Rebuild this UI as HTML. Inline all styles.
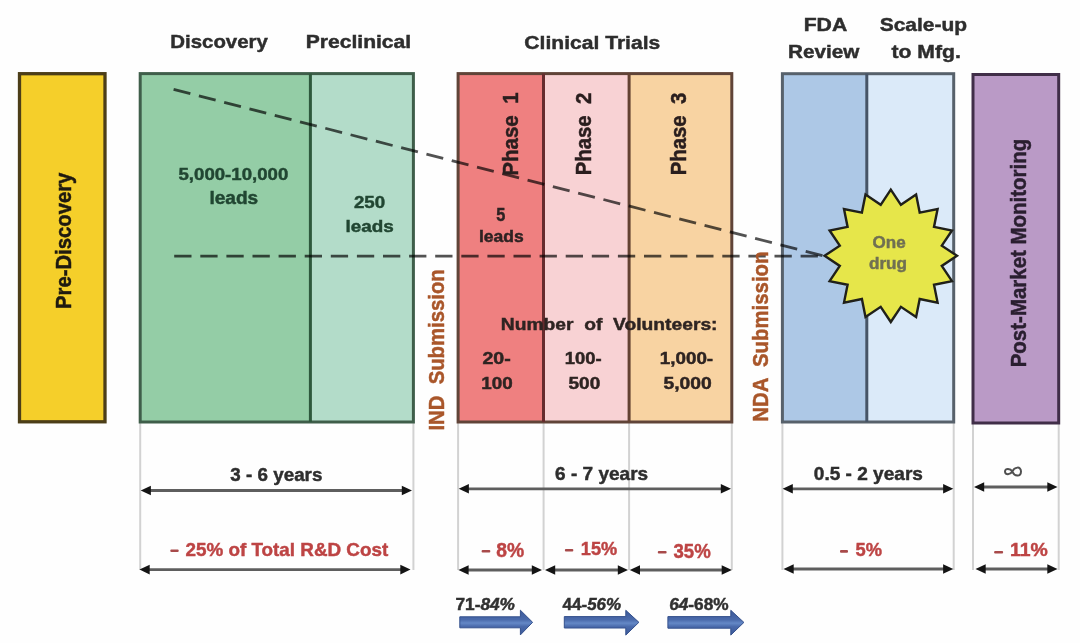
<!DOCTYPE html>
<html><head><meta charset="utf-8"><style>
html,body{margin:0;padding:0;background:#fff;}
svg text{white-space:pre;stroke:currentColor;}
svg{display:block;filter:blur(0.6px);font-family:"Liberation Sans",sans-serif;font-weight:bold;}
</style></head><body>
<svg width="1080" height="643" viewBox="0 0 1080 643">
<defs><linearGradient id="bg" x1="0" y1="0" x2="0" y2="1"><stop offset="0" stop-color="#3b5898"/><stop offset="0.38" stop-color="#4a6aab"/><stop offset="0.52" stop-color="#6488c6"/><stop offset="0.66" stop-color="#4a6aab"/><stop offset="1" stop-color="#3b5898"/></linearGradient></defs>
<rect width="1080" height="643" fill="#fefefe"/>
<line x1="140.2" y1="422" x2="140.2" y2="570" stroke="#d2d2d2" stroke-width="2"/>
<line x1="413.4" y1="422" x2="413.4" y2="570" stroke="#d2d2d2" stroke-width="2"/>
<line x1="458.1" y1="422" x2="458.1" y2="570" stroke="#d2d2d2" stroke-width="2"/>
<line x1="543.6" y1="422" x2="543.6" y2="570" stroke="#d2d2d2" stroke-width="2"/>
<line x1="629.1" y1="422" x2="629.1" y2="570" stroke="#d2d2d2" stroke-width="2"/>
<line x1="731.8" y1="422" x2="731.8" y2="570" stroke="#d2d2d2" stroke-width="2"/>
<line x1="782.4" y1="422" x2="782.4" y2="570" stroke="#d2d2d2" stroke-width="2"/>
<line x1="953.7" y1="422" x2="953.7" y2="570" stroke="#d2d2d2" stroke-width="2"/>
<line x1="973" y1="422" x2="973" y2="570" stroke="#d2d2d2" stroke-width="2"/>
<line x1="1058.7" y1="422" x2="1058.7" y2="570" stroke="#d2d2d2" stroke-width="2"/>
<rect x="19.5" y="73.7" width="85.5" height="348.1" fill="#f5cf2a" stroke="#4c3e18" stroke-width="3.3"/>
<rect x="140" y="73.6" width="170.4" height="348.4" fill="#94cda6"/>
<rect x="310.4" y="73.6" width="103" height="348.4" fill="#b3dcc9"/>
<rect x="140.2" y="73.6" width="273.2" height="348.4" fill="none" stroke="#3f5e4a" stroke-width="3"/>
<line x1="310.4" y1="73.6" x2="310.4" y2="422" stroke="#2e583c" stroke-width="3"/>
<rect x="458" y="73.6" width="85.6" height="348.4" fill="#ef8080"/>
<rect x="543.6" y="73.6" width="85.5" height="348.4" fill="#f8d2d4"/>
<rect x="629.1" y="73.6" width="102.7" height="348.4" fill="#f8d3a2"/>
<rect x="458.1" y="73.6" width="273.69999999999993" height="348.4" fill="none" stroke="#604438" stroke-width="3"/>
<line x1="543.5" y1="73.6" x2="543.5" y2="422" stroke="#662c2e" stroke-width="3"/>
<line x1="629.1" y1="73.6" x2="629.1" y2="422" stroke="#634232" stroke-width="3"/>
<rect x="782.4" y="73.6" width="84.4" height="348.4" fill="#adc8e6"/>
<rect x="866.8" y="73.6" width="86.9" height="348.4" fill="#dbeaf9"/>
<rect x="782.4" y="73.7" width="171.30000000000007" height="348.3" fill="none" stroke="#57616b" stroke-width="3"/>
<line x1="866.8" y1="73.6" x2="866.8" y2="422" stroke="#465466" stroke-width="3"/>
<rect x="973" y="74.5" width="85.70000000000005" height="348.5" fill="#ba9ac6" stroke="#402e48" stroke-width="3"/>
<line x1="173.6" y1="89.4" x2="824" y2="256" stroke="#000" stroke-opacity="0.68" stroke-width="2.8" stroke-dasharray="17.3 8.8"/>
<line x1="174.2" y1="256.2" x2="824" y2="256.2" stroke="#000" stroke-opacity="0.68" stroke-width="2.8" stroke-dasharray="17.3 8.8"/>
<polygon points="890.8,189.6 880.7,204.8 865.5,194.6 861.9,212.6 844.0,209.0 847.6,226.9 829.6,230.5 839.8,245.7 824.6,255.8 839.8,265.9 829.6,281.1 847.6,284.7 844.0,302.6 861.9,299.0 865.5,317.0 880.7,306.8 890.8,322.0 900.9,306.8 916.1,317.0 919.7,299.0 937.6,302.6 934.0,284.7 952.0,281.1 941.8,265.9 957.0,255.8 941.8,245.7 952.0,230.5 934.0,226.9 937.6,209.0 919.7,212.6 916.1,194.6 900.9,204.8" fill="#e6e64a" stroke="#20201a" stroke-width="2.4" stroke-linejoin="miter"/>
<rect x="170.3" y="549.5" width="8.399999999999977" height="2.6" rx="1" fill="#a84a4a"/><rect x="481.6" y="550.0" width="8.699999999999989" height="2.6" rx="1" fill="#a84a4a"/><rect x="564.9" y="549.0" width="8.399999999999977" height="2.6" rx="1" fill="#a84a4a"/><rect x="657.8" y="551.0" width="8.800000000000068" height="2.6" rx="1" fill="#a84a4a"/><rect x="840" y="550.1" width="8" height="2.6" rx="1" fill="#a84a4a"/><rect x="994.1" y="550.9000000000001" width="9.0" height="2.6" rx="1" fill="#a84a4a"/>
<text transform="translate(455.46,609.5) scale(1.0541,1)" font-size="16.4" fill="#303030" style="color:#303030" stroke-width="0.45"><tspan font-style="normal">71-</tspan><tspan font-style="italic">84%</tspan></text><text transform="translate(562.60,609.5) scale(1.0374,1)" font-size="16.4" fill="#303030" style="color:#303030" stroke-width="0.45"><tspan font-style="normal">44-</tspan><tspan font-style="italic">56%</tspan></text><text transform="translate(669.16,609.5) scale(1.0523,1)" font-size="16.4" fill="#303030" style="color:#303030" stroke-width="0.45"><tspan font-style="italic">64</tspan><tspan font-style="normal">-68%</tspan></text>
<path d="M1012.3,471.6 C1010.5,468.4 1005,467.8 1005,471.6 C1005,475.4 1010.5,474.8 1012.3,471.6 C1014.2,467 1021,465.6 1021,471.6 C1021,477.6 1014.2,476.2 1012.3,471.6 Z" fill="none" stroke="#505050" stroke-width="2"/>
<line x1="149.89999999999998" y1="490.5" x2="402.8" y2="490.5" stroke="#5e5e5e" stroke-width="2.8"/><polygon points="140.7,490.5 150.89999999999998,485.7 150.89999999999998,495.3" fill="#141414"/><polygon points="412,490.5 401.8,485.7 401.8,495.3" fill="#141414"/>
<line x1="467.9" y1="488.8" x2="721.8" y2="488.8" stroke="#5e5e5e" stroke-width="2.8"/><polygon points="458.7,488.8 468.9,484.0 468.9,493.6" fill="#141414"/><polygon points="731,488.8 720.8,484.0 720.8,493.6" fill="#141414"/>
<line x1="791.8000000000001" y1="488.8" x2="944.0999999999999" y2="488.8" stroke="#5e5e5e" stroke-width="2.8"/><polygon points="782.6,488.8 792.8000000000001,484.0 792.8000000000001,493.6" fill="#141414"/><polygon points="953.3,488.8 943.0999999999999,484.0 943.0999999999999,493.6" fill="#141414"/>
<line x1="983.2" y1="487" x2="1048.3" y2="487" stroke="#5e5e5e" stroke-width="2.8"/><polygon points="974,487 984.2,482.2 984.2,491.8" fill="#141414"/><polygon points="1057.5,487 1047.3,482.2 1047.3,491.8" fill="#141414"/>
<line x1="148.7" y1="569.6" x2="401.3" y2="569.6" stroke="#5e5e5e" stroke-width="2.8"/><polygon points="139.5,569.6 149.7,564.8000000000001 149.7,574.4" fill="#141414"/><polygon points="410.5,569.6 400.3,564.8000000000001 400.3,574.4" fill="#141414"/>
<line x1="467.59999999999997" y1="570" x2="532.8" y2="570" stroke="#5e5e5e" stroke-width="2.8"/><polygon points="458.4,570 468.59999999999997,565.2 468.59999999999997,574.8" fill="#141414"/><polygon points="542,570 531.8,565.2 531.8,574.8" fill="#141414"/>
<line x1="554.2" y1="570" x2="618.8" y2="570" stroke="#5e5e5e" stroke-width="2.8"/><polygon points="545,570 555.2,565.2 555.2,574.8" fill="#141414"/><polygon points="628,570 617.8,565.2 617.8,574.8" fill="#141414"/>
<line x1="639.0" y1="570" x2="722.6999999999999" y2="570" stroke="#5e5e5e" stroke-width="2.8"/><polygon points="629.8,570 640.0,565.2 640.0,574.8" fill="#141414"/><polygon points="731.9,570 721.6999999999999,565.2 721.6999999999999,574.8" fill="#141414"/>
<line x1="792.7" y1="569" x2="944.0999999999999" y2="569" stroke="#5e5e5e" stroke-width="2.8"/><polygon points="783.5,569 793.7,564.2 793.7,573.8" fill="#141414"/><polygon points="953.3,569 943.0999999999999,564.2 943.0999999999999,573.8" fill="#141414"/>
<line x1="984.7" y1="569" x2="1048.3" y2="569" stroke="#5e5e5e" stroke-width="2.8"/><polygon points="975.5,569 985.7,564.2 985.7,573.8" fill="#141414"/><polygon points="1057.5,569 1047.3,564.2 1047.3,573.8" fill="#141414"/>
<polygon points="459.8,616.8 520.4,616.8 520.4,610.2 532.6,622.3 520.4,634.9 520.4,627.8 459.8,627.8" fill="url(#bg)" stroke="#34508c" stroke-width="1"/>
<polygon points="564.3,616.6 625.8,616.6 625.8,610.3 638.9,622.3 625.8,635.1 625.8,628 564.3,628" fill="url(#bg)" stroke="#34508c" stroke-width="1"/>
<polygon points="667.9,616.6 730.8,616.6 730.8,610.3 743.9,622.4000000000001 730.8,635.1 730.8,628.2 667.9,628.2" fill="url(#bg)" stroke="#34508c" stroke-width="1"/>
<text transform="translate(170.32,48.00) scale(1.1034,1)" font-size="18.49" fill="#2e2e2e" style="color:#2e2e2e" stroke-width="0.45">Discovery</text>
<text transform="translate(305.68,48.00) scale(1.1411,1)" font-size="18.49" fill="#2e2e2e" style="color:#2e2e2e" stroke-width="0.45">Preclinical</text>
<text transform="translate(524.34,48.50) scale(1.0986,1)" font-size="19.20" fill="#2e2e2e" style="color:#2e2e2e" stroke-width="0.45">Clinical Trials</text>
<text transform="translate(803.68,31.00) scale(1.1280,1)" font-size="18.78" fill="#2e2e2e" style="color:#2e2e2e" stroke-width="0.45">FDA</text>
<text transform="translate(788.11,57.60) scale(1.1006,1)" font-size="18.78" fill="#2e2e2e" style="color:#2e2e2e" stroke-width="0.45">Review</text>
<text transform="translate(879.67,31.00) scale(1.1170,1)" font-size="18.78" fill="#2e2e2e" style="color:#2e2e2e" stroke-width="0.45">Scale-up</text>
<text transform="translate(891.50,57.60) scale(1.1273,1)" font-size="18.78" fill="#2e2e2e" style="color:#2e2e2e" stroke-width="0.45">to Mfg.</text>
<text transform="translate(178.51,180.30) scale(1.0828,1)" font-size="17.21" fill="#214632" style="color:#214632" stroke-width="0.45">5,000-10,000</text>
<text transform="translate(209.41,204.40) scale(1.0835,1)" font-size="17.64" fill="#214632" style="color:#214632" stroke-width="0.45">leads</text>
<text transform="translate(353.91,207.50) scale(1.0971,1)" font-size="17.07" fill="#214632" style="color:#214632" stroke-width="0.45">250</text>
<text transform="translate(345.42,231.60) scale(1.1076,1)" font-size="17.07" fill="#214632" style="color:#214632" stroke-width="0.45">leads</text>
<text transform="translate(496.15,220.60) scale(0.9089,1)" font-size="17.92" fill="#2e2222" style="color:#2e2222" stroke-width="0.45">5</text>
<text transform="translate(478.90,241.60) scale(1.0998,1)" font-size="15.93" fill="#2e2222" style="color:#2e2222" stroke-width="0.45">leads</text>
<text transform="translate(500.80,329.50) scale(1.1279,1)" font-size="17.07" fill="#2e2422" style="color:#2e2422" stroke-width="0.45">Number  of  Volunteers:</text>
<text transform="translate(482.39,363.75) scale(1.2244,1)" font-size="16.00" fill="#2e2422" style="color:#2e2422" stroke-width="0.45">20-</text>
<text transform="translate(481.32,388.75) scale(1.1275,1)" font-size="16.71" fill="#2e2422" style="color:#2e2422" stroke-width="0.45">100</text>
<text transform="translate(564.85,363.75) scale(1.1494,1)" font-size="16.00" fill="#2e2422" style="color:#2e2422" stroke-width="0.45">100-</text>
<text transform="translate(568.45,388.75) scale(1.1411,1)" font-size="16.71" fill="#2e2422" style="color:#2e2422" stroke-width="0.45">500</text>
<text transform="translate(659.82,363.75) scale(1.1759,1)" font-size="16.00" fill="#2e2422" style="color:#2e2422" stroke-width="0.45">1,000-</text>
<text transform="translate(663.45,388.75) scale(1.1556,1)" font-size="16.71" fill="#2e2422" style="color:#2e2422" stroke-width="0.45">5,000</text>
<text transform="translate(872.47,247.60) scale(1.0332,1)" font-size="16.50" fill="#707052" style="color:#707052" stroke-width="0.45">One</text>
<text transform="translate(868.96,268.60) scale(1.0402,1)" font-size="16.50" fill="#707052" style="color:#707052" stroke-width="0.45">drug</text>
<text transform="translate(230.31,480.60) scale(1.0108,1)" font-size="18.63" fill="#2e2e2e" style="color:#2e2e2e" stroke-width="0.45">3 - 6 years</text>
<text transform="translate(555.11,480.00) scale(1.0286,1)" font-size="18.49" fill="#2e2e2e" style="color:#2e2e2e" stroke-width="0.45">6 - 7 years</text>
<text transform="translate(813.80,480.00) scale(1.0309,1)" font-size="18.49" fill="#2e2e2e" style="color:#2e2e2e" stroke-width="0.45">0.5 - 2 years</text>
<text transform="translate(185.51,555.50) scale(1.0042,1)" font-size="18.78" fill="#bd4444" style="color:#bd4444" stroke-width="0.45">25% of Total R&amp;D Cost</text>
<text transform="translate(496.30,556.90) scale(0.9825,1)" font-size="19.63" fill="#bd4444" style="color:#bd4444" stroke-width="0.45">8%</text>
<text transform="translate(580.86,555.40) scale(0.9987,1)" font-size="18.21" fill="#bd4444" style="color:#bd4444" stroke-width="0.45">15%</text>
<text transform="translate(673.51,557.60) scale(0.9622,1)" font-size="19.35" fill="#bd4444" style="color:#bd4444" stroke-width="0.45">35%</text>
<text transform="translate(855.51,556.40) scale(0.9599,1)" font-size="19.06" fill="#bd4444" style="color:#bd4444" stroke-width="0.45">5%</text>
<text transform="translate(1009.99,556.40) scale(1.1097,1)" font-size="17.50" fill="#bd4444" style="color:#bd4444" stroke-width="0.45">11%</text>
<text transform="translate(70.70,308.97) rotate(-90) scale(1,1.1150)" font-size="20.29" fill="#1f1a10" style="color:#1f1a10" stroke-width="0.45">Pre-Discovery</text>
<text transform="translate(443.50,430.57) rotate(-90) scale(1,1.0437)" font-size="20.31" fill="#a9562a" style="color:#a9562a" stroke-width="0.45">IND  Submission</text>
<text transform="translate(768.00,421.67) rotate(-90) scale(1,1.0611)" font-size="20.38" fill="#a9562a" style="color:#a9562a" stroke-width="0.45">NDA  Submission</text>
<text transform="translate(1026.00,367.28) rotate(-90) scale(1,1.0771)" font-size="20.47" fill="#2a1f30" style="color:#2a1f30" stroke-width="0.45">Post-Market Monitoring</text>
<text transform="translate(517.90,175.68) rotate(-90) scale(1,1.0326)" font-size="20.53" fill="#2a1e1e" style="color:#2a1e1e" stroke-width="0.45">Phase  1</text>
<text transform="translate(591.00,175.37) rotate(-90) scale(1,1.1031)" font-size="20.37" fill="#2a1e1e" style="color:#2a1e1e" stroke-width="0.45">Phase  2</text>
<text transform="translate(686.00,175.37) rotate(-90) scale(1,1.1241)" font-size="20.37" fill="#2a1e1e" style="color:#2a1e1e" stroke-width="0.45">Phase  3</text>
</svg>
</body></html>
